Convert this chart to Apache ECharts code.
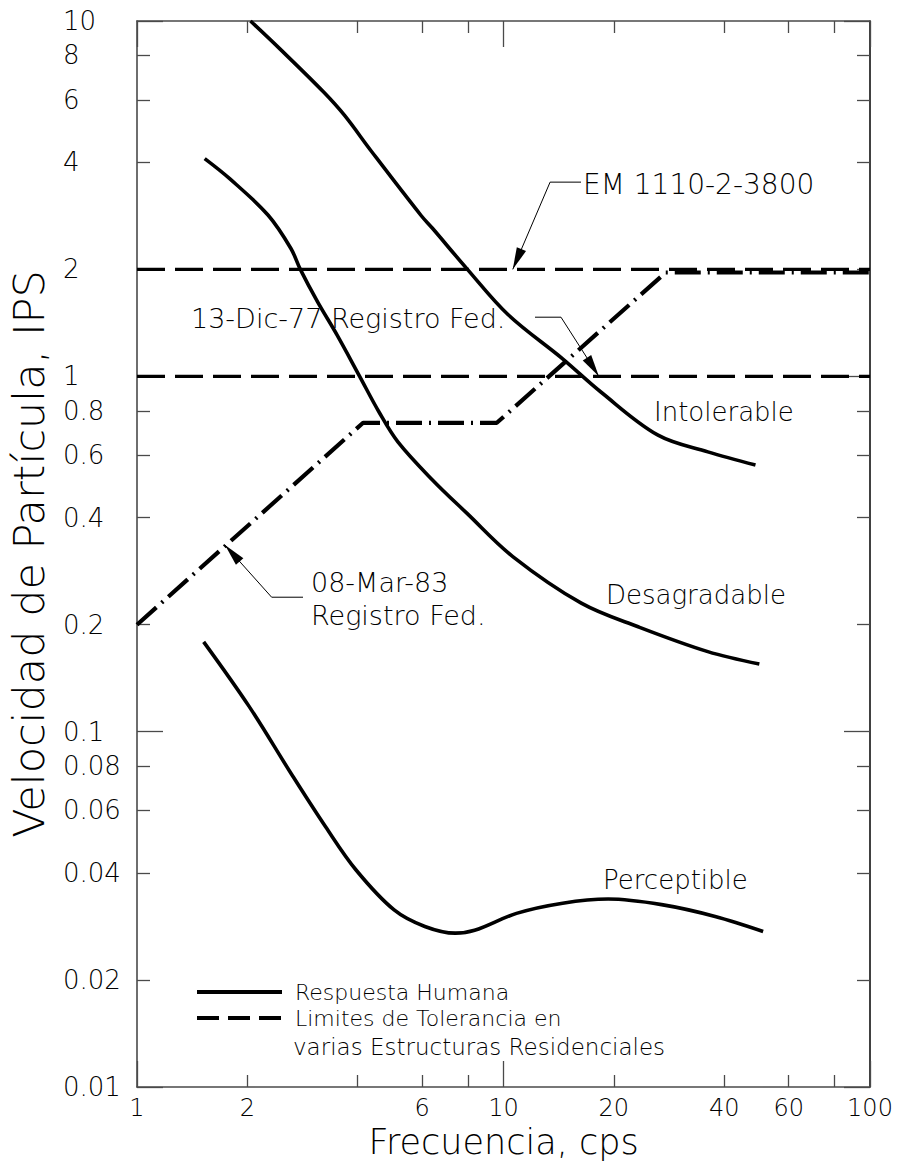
<!DOCTYPE html>
<html><head><meta charset="utf-8">
<script src="https://cdn.jsdelivr.net/npm/echarts@6/dist/echarts.min.js"></script>
<style>html,body{margin:0;padding:0;background:#fff}#c{width:912px;height:1166px}</style>
</head><body><div id="c"></div>
<script>
// ---------- data ----------
const freqIntolerable = [2.04, 2.45, 3.23, 3.68, 4.36, 5.95, 6.40, 7.94, 10.3, 14.5, 18.4, 26.4, 36.1, 48.7];
const velIntolerable  = [10.0, 8.36, 6.31, 5.43, 4.30, 2.84, 2.61, 2.01, 1.49, 1.12, 0.905, 0.683, 0.613, 0.563];

const freqDesagradable = [1.53, 1.79, 2.28, 2.63, 2.79, 3.11, 3.51, 4.05, 4.57, 5.15, 6.40, 7.94, 10.6, 16.3, 23.4, 36.1, 49.9];
const velDesagradable  = [4.10, 3.60, 2.84, 2.29, 2.00, 1.62, 1.31, 1.00, 0.795, 0.654, 0.511, 0.412, 0.311, 0.230, 0.197, 0.168, 0.155];

const freqPerceptible = [1.52, 2.02, 2.63, 3.27, 3.96, 5.03, 6.10, 7.39, 8.34, 10.85, 14.5, 19.3, 27.0, 37.8, 51.1];
const velPerceptible  = [0.179, 0.118, 0.0764, 0.054, 0.0408, 0.0315, 0.0283, 0.0271, 0.0276, 0.0308, 0.0329, 0.0338, 0.0326, 0.0302, 0.0274];

const freqEM = [1, 100];
const velEM  = [2, 2];
const freqDic77 = [1, 100];
const velDic77  = [1, 1];
const freqMar83 = [1, 4.14, 9.59, 27.7, 100];
const velMar83  = [0.2, 0.74, 0.74, 1.96, 1.96];

const xTickLabels = [1, 2, 6, 10, 20, 40, 60, 100];
const xMinorTicks = [2, 4, 6, 8, 20, 40, 60, 80];
const yTickLabels = [0.01, 0.02, 0.04, 0.06, 0.08, 0.1, 0.2, 0.4, 0.6, 0.8, 1, 2, 4, 6, 8, 10];
const yMinorTicks = [0.02, 0.04, 0.06, 0.08, 0.2, 0.4, 0.6, 0.8, 2, 4, 6, 8];

const curveNames = ['Intolerable', 'Desagradable', 'Perceptible'];
const legendHuman = 'Respuesta Humana';
const legendLimit = 'Limites de Tolerancia en varias Estructuras Residenciales';

// ---------- helpers ----------
const FONT = '"DejaVu Sans", "Liberation Sans", sans-serif';
const W = 200;
const zip = (a, b) => a.map((v, i) => [v, b[i]]);
const lg = v => Math.log10(v);
const fmtFrom = list => v => {
  for (const t of list) if (Math.abs(lg(t) - v) < 1e-6) return String(t);
  return '';
};
const AX = '#4a4a4a';

const chart = echarts.init(document.getElementById('c'), null, {renderer: 'svg'});

const tickStyle = {color: AX, width: 1.3};
const noZero = {show: false, onZero: false};
const valueAxisBase = {type: 'value', splitLine: {show: false}, axisLine: noZero, axisPointer: {show: false}};
const boxLine = c => ({show: true, onZero: false, lineStyle: {color: c || AX, width: 1.6}});

chart.setOption({
  backgroundColor: '#fff',
  animation: false,
  grid: {left: 137, right: 42, top: 21, bottom: 79, containLabel: false, outerBoundsMode: 'none'},
  legend: {
    left: 195, top: 979, padding: 0, orient: 'vertical', itemWidth: 85, itemHeight: 14, itemGap: 0,
    selectedMode: false,
    itemStyle: {opacity: 0},
    lineStyle: {width: 4, color: '#000'},
    data: [
      {name: legendHuman},
      {name: legendLimit, lineStyle: {width: 4, color: '#000', type: [22, 9]}}
    ],
    formatter: n => n === legendHuman ? n : 'Limites de Tolerancia en',
    textStyle: {fontFamily: FONT, fontWeight: W, fontSize: 22, color: '#000', lineHeight: 26, padding: [0, 0, 0, 8]}
  },
  xAxis: [
    {type: 'log', logBase: 10, min: 1, max: 100, position: 'bottom',
     axisLine: boxLine(),
     axisTick: {show: true, inside: true, length: 26, lineStyle: tickStyle},
     axisLabel: {show: false}, splitLine: {show: false},
     name: 'Frecuencia, cps', nameLocation: 'middle', nameGap: 37.5,
     nameTextStyle: {fontFamily: FONT, fontWeight: W, fontSize: 35, color: '#000', verticalAlign: 'top'}},
    {type: 'log', logBase: 10, min: 1, max: 100, position: 'top',
     axisLine: boxLine(),
     axisTick: {show: true, inside: true, length: 26, lineStyle: tickStyle},
     axisLabel: {show: false}, splitLine: {show: false}},
    Object.assign({}, valueAxisBase, {min: 0, max: 2, position: 'bottom',
     axisTick: {show: true, inside: true, length: 12, lineStyle: tickStyle, customValues: xMinorTicks.map(lg)},
     axisLabel: {show: true, customValues: xTickLabels.map(lg), formatter: fmtFrom(xTickLabels), margin: 9,
       showMinLabel: true, showMaxLabel: true, hideOverlap: false,
       fontFamily: FONT, fontWeight: W, fontSize: 24, color: '#000'}}),
    Object.assign({}, valueAxisBase, {min: 0, max: 2, position: 'top',
     axisTick: {show: true, inside: true, length: 12, lineStyle: tickStyle, customValues: xMinorTicks.map(lg)},
     axisLabel: {show: false}})
  ],
  yAxis: [
    {type: 'log', logBase: 10, min: 0.01, max: 10, position: 'left',
     axisLine: boxLine(),
     axisTick: {show: true, inside: true, length: 26, lineStyle: tickStyle},
     axisLabel: {show: false}, splitLine: {show: false},
     name: 'Velocidad de Partícula, IPS', nameLocation: 'middle', nameGap: 87,
     nameTextStyle: {fontFamily: FONT, fontWeight: W, fontSize: 43, color: '#000'}},
    {type: 'log', logBase: 10, min: 0.01, max: 10, position: 'right',
     axisLine: boxLine('#111'),
     axisTick: {show: true, inside: true, length: 26, lineStyle: tickStyle},
     axisLabel: {show: false}, splitLine: {show: false}},
    Object.assign({}, valueAxisBase, {min: -2, max: 1, position: 'left',
     axisTick: {show: true, inside: true, length: 13, lineStyle: tickStyle, customValues: yMinorTicks.map(lg)},
     axisLabel: {show: true, customValues: yTickLabels.map(lg), formatter: fmtFrom(yTickLabels),
       margin: 74, align: 'left', showMinLabel: true, showMaxLabel: true, hideOverlap: false,
       fontFamily: FONT, fontWeight: W, fontSize: 26, color: '#000'}}),
    Object.assign({}, valueAxisBase, {min: -2, max: 1, position: 'right',
     axisTick: {show: true, inside: true, length: 13, lineStyle: tickStyle, customValues: yMinorTicks.map(lg)},
     axisLabel: {show: false}})
  ],
  series: [
    {name: legendLimit, type: 'line', xAxisIndex: 0, yAxisIndex: 0, data: zip(freqEM, velEM),
     symbol: 'none', z: 2, lineStyle: {color: '#000', width: 3.2, type: [28, 10]}},
    {name: legendLimit, type: 'line', xAxisIndex: 0, yAxisIndex: 0, data: zip(freqDic77, velDic77),
     symbol: 'none', z: 2, lineStyle: {color: '#000', width: 3.2, type: [28, 10]}},
    {name: '08-Mar-83 Registro Fed.', type: 'line', xAxisIndex: 0, yAxisIndex: 0, data: zip(freqMar83, velMar83),
     symbol: 'none', z: 3, lineStyle: {color: '#000', width: 4.2, type: [26, 7, 2, 7]}},
    {name: legendHuman, type: 'line', xAxisIndex: 0, yAxisIndex: 0, data: zip(freqIntolerable, velIntolerable),
     symbol: 'none', smooth: 0.35, z: 4, lineStyle: {color: '#000', width: 3.6}},
    {name: legendHuman, type: 'line', xAxisIndex: 0, yAxisIndex: 0, data: zip(freqDesagradable, velDesagradable),
     symbol: 'none', smooth: 0.35, z: 4, lineStyle: {color: '#000', width: 3.6}},
    {name: legendHuman, type: 'line', xAxisIndex: 0, yAxisIndex: 0, data: zip(freqPerceptible, velPerceptible),
     symbol: 'none', smooth: 0.35, z: 4, lineStyle: {color: '#000', width: 3.6}}
  ]
});

// ---------- annotations (leaders point at data coordinates) ----------
const px = d => chart.convertToPixel({xAxisIndex: 0, yAxisIndex: 0}, d);
function leader(textEndX, elbowData, tipData) {
  const e = px(elbowData), t = px(tipData);
  const s = [textEndX, e[1]];
  const dx = t[0] - e[0], dy = t[1] - e[1], len = Math.hypot(dx, dy);
  const ux = dx / len, uy = dy / len, L = 22, H = 5;
  const bx = t[0] - ux * L, by = t[1] - uy * L;
  return [
    {type: 'polyline', z: 10, shape: {points: [s, e, t]}, style: {stroke: '#000', lineWidth: 1, fill: null}},
    {type: 'polygon', z: 10, shape: {points: [t, [bx - uy * H, by + ux * H], [bx + uy * H, by - ux * H]]}, style: {fill: '#000'}}
  ];
}
function label(text, x, y, size) {
  return {type: 'text', z: 11, x: x, y: y,
    style: {text: text, fontFamily: FONT, fontWeight: W, fontSize: size || 26, fill: '#000', align: 'left', verticalAlign: 'middle'}};
}
const g = [];
g.push(...leader(581, [13.4, 3.52], [10.6, 2]));
g.push(label('EM 1110-2-3800', 583, 184, 28));
g.push(...leader(535, [14.35, 1.467], [18.2, 1]));
g.push(label('13-Dic-77 Registro Fed.', 191, 318, 27));
g.push(...leader(303, [2.33, 0.239], [1.738, 0.335]));
g.push(label('08-Mar-83', 311, 582, 27));
g.push(label('Registro Fed.', 311, 615, 27));
g.push(label(curveNames[0], 654, 412, 26));
g.push(label(curveNames[1], 606, 595, 26));
g.push(label(curveNames[2], 603, 880, 26));
g.push(label('varias Estructuras Residenciales', 293, 1047, 23));
chart.setOption({graphic: {elements: g}});
</script></body></html>
